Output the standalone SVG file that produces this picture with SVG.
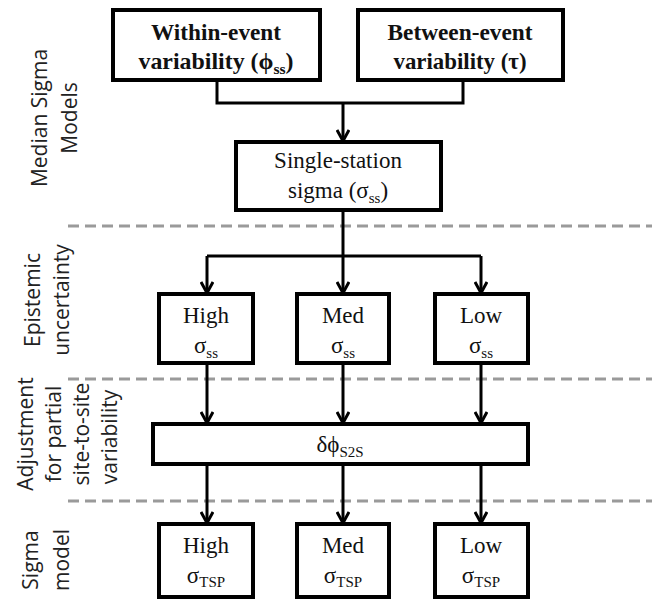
<svg xmlns="http://www.w3.org/2000/svg" width="652" height="599" viewBox="0 0 652 599">
<style>
.box{fill:#fff;stroke:#000;stroke-width:4}
.t{font-family:"Liberation Serif","Times New Roman",serif;font-size:23px;fill:#111;text-anchor:middle}
.b{font-weight:700}
.sub{font-size:15px}
.lab{font-family:"Open Sans","Noto Sans",sans-serif;font-size:21px;fill:#222;text-anchor:middle}
.dash{stroke:#9a9a9a;stroke-width:3;stroke-dasharray:11 6;fill:none}
.c{stroke:#000;stroke-width:3;fill:none}
</style>
<defs>
<marker id="ah" viewBox="0 0 14 14" refX="12" refY="7" markerWidth="14" markerHeight="14" markerUnits="userSpaceOnUse" orient="auto">
<path d="M1,1 L12,7 L1,13" fill="none" stroke="#000" stroke-width="3"/>
</marker>
</defs>
<rect width="652" height="599" fill="#fff"/>
<g id="separators">
<line class="dash" x1="68" y1="226" x2="652" y2="226"/>
<line class="dash" x1="68" y1="379" x2="652" y2="379"/>
<line class="dash" x1="68" y1="501" x2="652" y2="501"/>
</g>
<g id="side-labels">
<text class="lab" transform="translate(47,118) rotate(-90)">Median Sigma</text>
<text class="lab" transform="translate(77,118) rotate(-90)">Models</text>
<text class="lab" transform="translate(40,300) rotate(-90)">Epistemic</text>
<text class="lab" transform="translate(69,300) rotate(-90)">uncertainty</text>
<text class="lab" transform="translate(33,434) rotate(-90)">Adjustment</text>
<text class="lab" transform="translate(61,434) rotate(-90)">for partial</text>
<text class="lab" transform="translate(89,434) rotate(-90)">site-to-site</text>
<text class="lab" transform="translate(117,437) rotate(-90)">variability</text>
<text class="lab" transform="translate(38,560) rotate(-90)">Sigma</text>
<text class="lab" transform="translate(69,560) rotate(-90)">model</text>
</g>
<g id="connectors">
<polyline class="c" points="217,80 217,103 463,103 463,80"/>
<line class="c" x1="343" y1="103" x2="343" y2="141" marker-end="url(#ah)"/>
<line class="c" x1="343" y1="210" x2="343" y2="256"/>
<line class="c" x1="207" y1="256" x2="481" y2="256"/>
<line class="c" x1="207" y1="256" x2="207" y2="293" marker-end="url(#ah)"/>
<line class="c" x1="343" y1="256" x2="343" y2="293" marker-end="url(#ah)"/>
<line class="c" x1="481" y1="256" x2="481" y2="293" marker-end="url(#ah)"/>
<line class="c" x1="207" y1="363" x2="207" y2="423" marker-end="url(#ah)"/>
<line class="c" x1="343" y1="363" x2="343" y2="423" marker-end="url(#ah)"/>
<line class="c" x1="481" y1="363" x2="481" y2="423" marker-end="url(#ah)"/>
<line class="c" x1="207" y1="464" x2="207" y2="523" marker-end="url(#ah)"/>
<line class="c" x1="343" y1="464" x2="343" y2="523" marker-end="url(#ah)"/>
<line class="c" x1="481" y1="464" x2="481" y2="523" marker-end="url(#ah)"/>
</g>
<g id="within-event">
<rect class="box" x="113" y="10" width="207" height="70"/>
<text class="t b" x="216" y="40" textLength="130" lengthAdjust="spacingAndGlyphs">Within-event</text>
<text class="t b" x="216" y="69" textLength="155" lengthAdjust="spacingAndGlyphs">variability (ϕ<tspan class="sub" dy="5">ss</tspan><tspan dy="-5">)</tspan></text>
</g>
<g id="between-event">
<rect class="box" x="358" y="10" width="205" height="70"/>
<text class="t b" x="460" y="40" textLength="145" lengthAdjust="spacingAndGlyphs">Between-event</text>
<text class="t b" x="460" y="69" textLength="133" lengthAdjust="spacingAndGlyphs">variability (τ)</text>
</g>
<g id="single-station">
<rect class="box" x="236" y="142" width="205" height="68"/>
<text class="t" x="338" y="168">Single-station</text>
<text class="t" x="338" y="198">sigma (σ<tspan class="sub" dy="5">ss</tspan><tspan dy="-5">)</tspan></text>
</g>
<g id="high-ss">
<rect class="box" x="159" y="294" width="94" height="69"/>
<text class="t" x="206" y="323">High</text>
<text class="t" x="206" y="353">σ<tspan class="sub" dy="5">ss</tspan></text>
</g>
<g id="med-ss">
<rect class="box" x="297" y="294" width="92" height="69"/>
<text class="t" x="343" y="323">Med</text>
<text class="t" x="343" y="353">σ<tspan class="sub" dy="5">ss</tspan></text>
</g>
<g id="low-ss">
<rect class="box" x="435" y="294" width="93" height="69"/>
<text class="t" x="481" y="323">Low</text>
<text class="t" x="481" y="353">σ<tspan class="sub" dy="5">ss</tspan></text>
</g>
<g id="s2s">
<rect class="box" x="153" y="424" width="375" height="40"/>
<text class="t" x="340" y="452">δϕ<tspan class="sub" dy="5">S2S</tspan></text>
</g>
<g id="high-tsp">
<rect class="box" x="159" y="524" width="94" height="73"/>
<text class="t" x="206" y="553">High</text>
<text class="t" x="206" y="583">σ<tspan class="sub" dy="4">TSP</tspan></text>
</g>
<g id="med-tsp">
<rect class="box" x="297" y="524" width="92" height="73"/>
<text class="t" x="343" y="553">Med</text>
<text class="t" x="343" y="583">σ<tspan class="sub" dy="4">TSP</tspan></text>
</g>
<g id="low-tsp">
<rect class="box" x="435" y="524" width="93" height="73"/>
<text class="t" x="481" y="553">Low</text>
<text class="t" x="481" y="583">σ<tspan class="sub" dy="4">TSP</tspan></text>
</g>
</svg>
